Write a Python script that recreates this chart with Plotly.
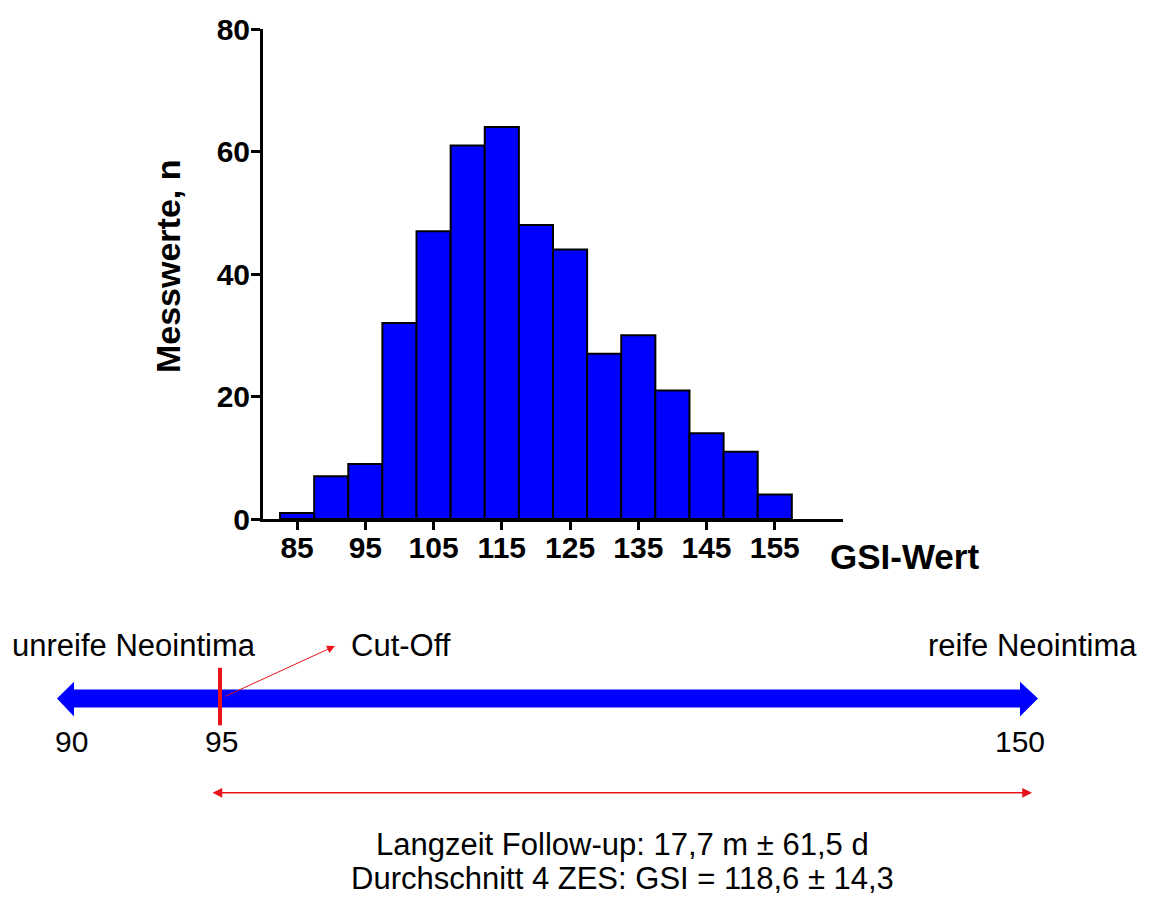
import plotly.graph_objects as go

# ---- data ----
gsi_bins = [85, 90, 95, 100, 105, 110, 115, 120, 125, 130, 135, 140, 145, 150, 155]
counts = [1, 7, 9, 32, 47, 61, 64, 48, 44, 27, 30, 21, 14, 11, 4]
x_tick_vals = [85, 95, 105, 115, 125, 135, 145, 155]
y_tick_vals = [0, 20, 40, 60, 80]
bin_width = 5

x_title = "GSI-Wert"
y_title = "Messwerte, n"
scale_labels = ["90", "95", "150"]
left_label = "unreife Neointima"
right_label = "reife Neointima"
cutoff_label = "Cut-Off"
summary_lines = ["Langzeit Follow-up: 17,7 m ± 61,5 d",
                 "Durchschnitt 4 ZES: GSI = 118,6 ± 14,3"]

# ---- layout geometry (pixels) ----
W, H = 1149, 897
PL, PR, PT, PB = 263, 843, 25, 519


def px(x):
    return (x - PL) / (PR - PL)


def py(y):
    return (PB - y) / (PB - PT)


FONT = "Arial, Liberation Sans, sans-serif"

fig = go.Figure()
fig.add_trace(go.Bar(
    x=gsi_bins, y=counts, width=[bin_width] * len(gsi_bins),
    marker=dict(color="#0000FF", line=dict(color="black", width=2)),
    showlegend=False, hoverinfo="x+y",
))

fig.update_layout(
    width=W, height=H, autosize=False,
    margin=dict(l=PL, r=W - PR, t=PT, b=H - PB, pad=0),
    paper_bgcolor="white", plot_bgcolor="white",
    font=dict(family=FONT, color="black"),
    xaxis=dict(range=[80, 165], tickvals=x_tick_vals, ticktext=[str(v) for v in x_tick_vals],
               showgrid=False, zeroline=False, showline=True, linecolor="black", linewidth=3,
               ticks="outside", ticklen=8, tickwidth=3, tickcolor="black",
               ticklabelstandoff=-8,
               tickfont=dict(family=FONT, size=30, weight="bold", color="black")),
    yaxis=dict(range=[0, 80], tickvals=y_tick_vals, ticktext=[str(v) for v in y_tick_vals],
               showgrid=False, zeroline=False, showline=True, linecolor="black", linewidth=3,
               ticks="outside", ticklen=9, tickwidth=3, tickcolor="black",
               ticklabelstandoff=-5,
               tickfont=dict(family=FONT, size=30, weight="bold", color="black")),
)

ann = []
# axis titles
ann.append(dict(text=x_title, xref="paper", yref="paper", x=px(828), y=py(557),
                xanchor="left", yanchor="middle", showarrow=False,
                font=dict(family=FONT, size=35, weight="bold", color="black")))
ann.append(dict(text=y_title, xref="paper", yref="paper", x=px(168), y=py(264),
                xanchor="center", yanchor="middle", textangle=-90, showarrow=False,
                font=dict(family=FONT, size=34, weight="bold", color="black")))

lab_font = dict(family=FONT, size=31, color="black")
num_font = dict(family=FONT, size=30, color="black")
ann.append(dict(text=left_label, xref="paper", yref="paper", x=px(10), y=py(647),
                xanchor="left", yanchor="middle", showarrow=False, font=lab_font))
ann.append(dict(text=cutoff_label, xref="paper", yref="paper", x=px(349), y=py(647),
                xanchor="left", yanchor="middle", showarrow=False, font=lab_font))
ann.append(dict(text=right_label, xref="paper", yref="paper", x=px(1139), y=py(647),
                xanchor="right", yanchor="middle", showarrow=False, font=lab_font))

for lab, xc in zip(scale_labels, [71, 221, 1020]):
    ann.append(dict(text=lab, xref="paper", yref="paper", x=px(xc), y=py(743),
                    xanchor="center", yanchor="middle", showarrow=False, font=num_font))

for line, yc in zip(summary_lines, [847, 881]):
    ann.append(dict(text=line, xref="paper", yref="paper", x=px(622), y=py(yc),
                    xanchor="center", yanchor="middle", showarrow=False, font=lab_font))

# Cut-off pointer arrow
ann.append(dict(text="", xref="paper", yref="paper", x=px(335), y=py(647),
                ax=224 - 335, ay=698 - 647, showarrow=True, arrowhead=2,
                arrowsize=1.6, arrowwidth=1, arrowcolor="#E8141B", standoff=0))
# follow-up double arrow
ann.append(dict(text="", xref="paper", yref="paper", x=px(1032), y=py(795),
                ax=211 - 1032, ay=0, showarrow=True, arrowhead=2, startarrowhead=2,
                arrowside="end+start", arrowsize=1.3, startarrowsize=1.3,
                arrowwidth=1.5, arrowcolor="#E8141B", standoff=0, startstandoff=0))
fig.update_layout(annotations=ann)

# Blue double-headed scale arrow
pts = [(57, 700), (74, 683), (74, 691), (1020, 691), (1020, 683), (1038, 700),
       (1020, 718), (1020, 709), (74, 709), (74, 718)]
path = "M " + " L ".join(f"{px(x):.5f},{py(y):.5f}" for x, y in pts) + " Z"
shapes = [
    dict(type="path", xref="paper", yref="paper", path=path,
         fillcolor="#0000FF", line=dict(width=0)),
    dict(type="line", xref="paper", yref="paper", x0=px(220), x1=px(220),
         y0=py(669), y1=py(727), line=dict(color="#E8141B", width=4)),
]
fig.update_layout(shapes=shapes)

fig.write_html("out.html")
